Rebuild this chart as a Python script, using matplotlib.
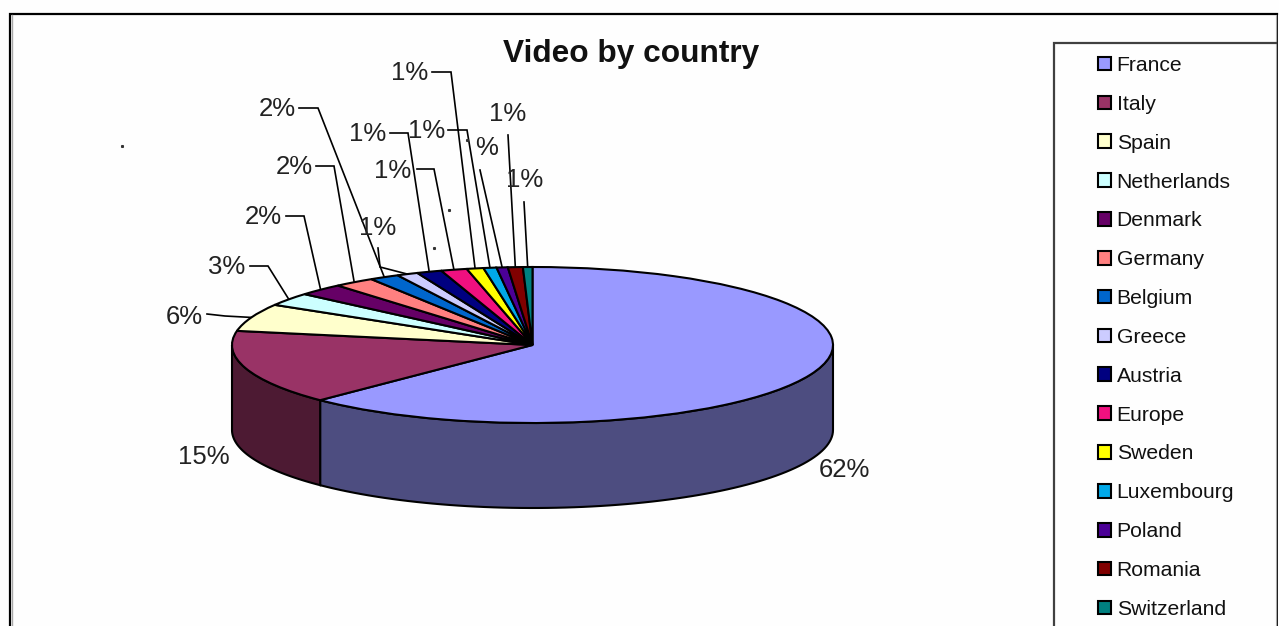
import numpy as np
import matplotlib
matplotlib.use("Agg")
import matplotlib.pyplot as plt
import matplotlib.colors as mcolors

plt.rcParams['font.family'] = ['Liberation Sans', 'DejaVu Sans']

countries = ["France", "Italy", "Spain", "Netherlands", "Denmark", "Germany", "Belgium", "Greece",
             "Austria", "Europe", "Sweden", "Luxembourg", "Poland", "Romania", "Switzerland"]
shares = [62.49, 15.41, 5.7, 2.7, 2.49, 2.2, 1.6, 1.15, 1.35, 1.4, 0.9, 0.7, 0.6, 0.8, 0.51]
share_labels = ["62%", "15%", "6%", "3%", "2%", "2%", "2%", "1%", "1%", "1%", "1%", "1%", "%", "1%", "1%"]
colors = ["#9999FF", "#993366", "#FFFFCC", "#CCFFFF", "#660066", "#FF8080", "#0066CC", "#CCCCFF",
          "#000080", "#F0107F", "#FFFF00", "#00A8E8", "#4B0096", "#800000", "#008080"]

W, H = 1279, 626
# pie top in pixels
CX, CY, RX, RY = 532.5, 345, 300.5, 78
DEPTH = 85 / RY

# label centres, in pixels
label_pos = [(844, 470), (204, 457), (184, 317), (227, 267), (263, 217), (294, 167), (277, 109), (378, 228),
             (368, 134), (393, 171), (410, 73), (427, 131), (487, 148), (508, 114), (525, 180)]
# leader start and elbow, None where a slice has no leader
leader_pts = [None, None,
              [(207, 314), (225, 316)],
              [(250, 266), (268, 266)],
              [(286, 216), (304, 216)],
              [(316, 166), (334, 166)],
              [(299, 108), (318, 108)],
              [(378, 248), (380, 267)],
              [(390, 133), (408, 133)],
              [(417, 169), (434, 169)],
              [(432, 72), (451, 72)],
              [(448, 130), (467, 130)],
              [(480, 170)],
              [(508, 135)],
              [(524, 202)]]
specks = [(122, 146), (449, 210), (434, 248), (467, 140)]

fig = plt.figure(figsize=(W / 100, H / 100), dpi=100, facecolor="#FEFEFE")
ax = fig.add_axes([0, 0, 1, 1])
ax.set_xlim(0, W)
ax.set_ylim(H, 0)
ax.axis("off")

# outer frame and legend box run past the bottom edge
ax.plot([1277, 10, 10], [14, 14, 640], color="black", lw=1.6, solid_joinstyle="miter")
ax.plot([1277, 1277], [14, 640], color="black", lw=1.3)
ax.plot([12, 12], [15, 640], color="#A8A8A8", lw=1.0)
ax.plot([1275.5, 1275.5], [15, 640], color="#A8A8A8", lw=0.8)
ax.plot([1276, 1054, 1054], [43, 43, 640], color="#404040", lw=1.6, solid_joinstyle="miter")

ax.text(631, 54, "Video by country", fontsize=22.8, fontweight="bold", ha="center", va="center", color="#111111")

pie_ax = fig.add_axes([(CX - RX) / W, 1 - (CY + RY) / H, 2 * RX / W, 2 * RY / H])
wedges, _ = pie_ax.pie(shares, colors=colors, startangle=90, counterclock=False,
                       wedgeprops={"edgecolor": "black", "linewidth": 1.5, "clip_on": False})
pie_ax.set_aspect("auto")
pie_ax.set_xlim(-1, 1)
pie_ax.set_ylim(-1, 1)
pie_ax.axis("off")

# side wall for the slices that reach the front half
for w, c in zip(wedges, colors):
    t1 = max(w.theta1, -180)
    t2 = min(w.theta2, 0)
    if t2 <= t1:
        continue
    t = np.radians(np.linspace(t1, t2, 80))
    xs = np.concatenate([np.cos(t), np.cos(t[::-1])])
    ys = np.concatenate([np.sin(t), np.sin(t[::-1]) - DEPTH])
    dark = tuple(v * 0.5 for v in mcolors.to_rgb(c))
    pie_ax.fill(xs, ys, facecolor=dark, edgecolor="black", lw=1.5, clip_on=False, zorder=0)

# percentages and their leaders
for w, txt, pos, pts in zip(wedges, share_labels, label_pos, leader_pts):
    ax.text(pos[0], pos[1], txt, fontsize=18.5, ha="center", va="center", color="#222222")
    if pts is None:
        continue
    mid = np.radians((w.theta1 + w.theta2) / 2)
    end = (CX + RX * np.cos(mid), CY - RY * np.sin(mid))
    xs = [p[0] for p in pts] + [end[0]]
    ys = [p[1] for p in pts] + [end[1]]
    ax.plot(xs, ys, color="black", lw=1.2, solid_joinstyle="miter")

ax.plot([p[0] for p in specks], [p[1] for p in specks], ls="none", marker="s", ms=1.2, color="#333333")

leg = ax.legend(wedges, countries, loc="upper left", bbox_to_anchor=(1098, 56), bbox_transform=ax.transData,
                frameon=False, fontsize=15.2, borderpad=0, borderaxespad=0, handlelength=0.62, handleheight=0.62,
                handletextpad=0.26, labelspacing=0.94, labelcolor="#111111")

fig.savefig("out.png", dpi=100, facecolor=fig.get_facecolor())
